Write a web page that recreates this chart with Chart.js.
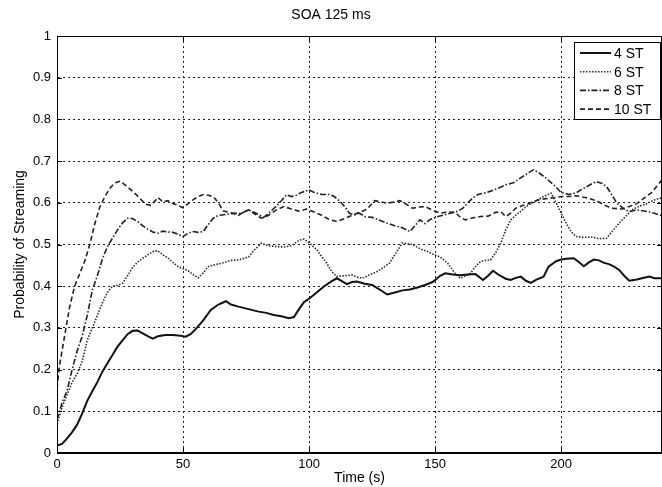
<!DOCTYPE html>
<html>
<head>
<meta charset="utf-8">
<script src="https://cdn.jsdelivr.net/npm/chart.js@4/dist/chart.umd.min.js"></script>
<style>
  html, body { margin: 0; padding: 0; background: #fff; }
  #wrap { width: 662px; height: 487px; }
</style>
</head>
<body>
<div id="wrap"><canvas id="chart" width="662" height="487"></canvas></div>
<script>
// tick values / labels
const xTicks = [0, 50, 100, 150, 200];
const yTickLabels = ['0', '0.1', '0.2', '0.3', '0.4', '0.5', '0.6', '0.7', '0.8', '0.9', '1'];
const seriesNames = ['4 ST', '6 ST', '8 ST', '10 ST'];

// 4 ST (solid)
const time4 = [0, 2, 4, 6, 8, 10, 12, 14, 16, 18, 20, 22, 24, 26, 28, 30, 32, 34, 36, 38, 40, 43, 46, 49, 51, 53, 55, 58, 61, 64, 67, 69, 72, 76, 80, 83, 86, 89, 92, 94, 96, 98, 100, 103, 106, 109, 111, 113, 115, 117, 119, 122, 125, 128, 131, 134, 137, 140, 143, 146, 149, 152, 154, 157, 160, 163, 166, 169, 171, 173, 175, 178, 180, 182, 184, 186, 188, 190, 193, 195, 198, 200, 202, 205, 207, 209, 211, 213, 215, 217, 219, 221, 223, 225, 227, 230, 232, 235, 237, 240];
const prob4 = [0.018, 0.022, 0.035, 0.05, 0.068, 0.095, 0.125, 0.148, 0.17, 0.195, 0.215, 0.235, 0.255, 0.27, 0.285, 0.293, 0.294, 0.287, 0.28, 0.274, 0.28, 0.283, 0.283, 0.281, 0.279, 0.285, 0.297, 0.318, 0.343, 0.356, 0.364, 0.356, 0.351, 0.345, 0.339, 0.336, 0.331, 0.328, 0.323, 0.326, 0.345, 0.362, 0.37, 0.385, 0.4, 0.412, 0.419, 0.412, 0.405, 0.41, 0.411, 0.406, 0.403, 0.392, 0.38, 0.385, 0.39, 0.392, 0.397, 0.403, 0.41, 0.425, 0.431, 0.428, 0.426, 0.428, 0.429, 0.415, 0.425, 0.437, 0.428, 0.418, 0.415, 0.42, 0.423, 0.413, 0.408, 0.415, 0.423, 0.447, 0.46, 0.464, 0.466, 0.467, 0.458, 0.448, 0.457, 0.464, 0.462, 0.456, 0.453, 0.447, 0.439, 0.425, 0.413, 0.416, 0.419, 0.423, 0.419, 0.419];

// 6 ST (dotted)
const time6 = [0, 2, 4, 6, 8, 10, 12, 14, 16, 18, 20, 22, 24, 26, 28, 30, 32, 34, 36, 38, 40, 42, 44, 46, 48, 50, 52, 54, 56, 58, 60, 63, 66, 69, 72, 76, 78, 81, 84, 87, 90, 93, 96, 98, 100, 103, 105, 107, 109, 111, 114, 117, 119, 121, 124, 127, 130, 132, 135, 137, 139, 141, 144, 147, 149, 152, 155, 158, 160, 162, 164, 166, 168, 170, 172, 174, 176, 178, 180, 183, 187, 190, 193, 196, 198, 200, 202, 204, 206, 209, 212, 215, 218, 220, 223, 226, 228, 231, 234, 237, 240];
const prob6 = [0.07, 0.11, 0.14, 0.17, 0.19, 0.22, 0.27, 0.3, 0.33, 0.36, 0.385, 0.4, 0.402, 0.407, 0.425, 0.445, 0.458, 0.467, 0.475, 0.483, 0.485, 0.475, 0.468, 0.457, 0.447, 0.442, 0.437, 0.428, 0.42, 0.432, 0.447, 0.452, 0.456, 0.462, 0.463, 0.47, 0.485, 0.503, 0.497, 0.495, 0.494, 0.497, 0.51, 0.513, 0.504, 0.488, 0.471, 0.455, 0.435, 0.423, 0.425, 0.427, 0.422, 0.419, 0.427, 0.435, 0.447, 0.456, 0.485, 0.504, 0.502, 0.5, 0.49, 0.483, 0.477, 0.47, 0.455, 0.43, 0.419, 0.425, 0.431, 0.447, 0.459, 0.462, 0.463, 0.48, 0.503, 0.535, 0.559, 0.575, 0.595, 0.605, 0.615, 0.623, 0.6, 0.575, 0.551, 0.53, 0.519, 0.517, 0.518, 0.514, 0.515, 0.53, 0.551, 0.57, 0.583, 0.592, 0.598, 0.607, 0.612];

// 8 ST (dash-dot)
const time8 = [0, 2, 4, 6, 8, 10, 12, 14, 16, 18, 20, 22, 24, 26, 28, 30, 32, 34, 36, 38, 40, 42, 44, 46, 48, 50, 52, 54, 56, 58, 60, 62, 64, 67, 70, 73, 76, 79, 82, 84, 87, 89, 91, 93, 95, 97, 100, 102, 105, 108, 110, 112, 114, 116, 118, 120, 122, 125, 128, 131, 134, 137, 140, 142, 144, 146, 148, 150, 153, 156, 159, 161, 163, 165, 167, 170, 172, 175, 178, 181, 184, 187, 189, 191, 194, 197, 200, 203, 206, 209, 212, 214, 216, 218, 220, 222, 225, 227, 230, 234, 237, 240];
const prob8 = [0.08, 0.12, 0.15, 0.2, 0.245, 0.28, 0.33, 0.39, 0.425, 0.465, 0.495, 0.515, 0.535, 0.552, 0.563, 0.562, 0.555, 0.545, 0.537, 0.53, 0.527, 0.532, 0.53, 0.529, 0.525, 0.519, 0.527, 0.531, 0.529, 0.531, 0.548, 0.563, 0.57, 0.572, 0.575, 0.574, 0.583, 0.575, 0.565, 0.575, 0.592, 0.605, 0.619, 0.615, 0.618, 0.625, 0.631, 0.625, 0.62, 0.62, 0.615, 0.605, 0.592, 0.575, 0.571, 0.575, 0.567, 0.565, 0.558, 0.551, 0.545, 0.54, 0.531, 0.545, 0.559, 0.55, 0.56, 0.565, 0.57, 0.575, 0.58, 0.587, 0.6, 0.612, 0.62, 0.624, 0.628, 0.635, 0.643, 0.648, 0.66, 0.672, 0.679, 0.673, 0.659, 0.643, 0.625, 0.62, 0.624, 0.635, 0.645, 0.651, 0.647, 0.639, 0.62, 0.6, 0.585, 0.579, 0.583, 0.579, 0.575, 0.569];

// 10 ST (dashed)
const time10 = [0, 1, 3, 5, 7, 9, 11, 13, 15, 17, 19, 21, 23, 25, 27, 29, 31, 33, 35, 37, 39, 40, 42, 44, 46, 48, 50, 52, 54, 56, 58, 60, 62, 64, 66, 69, 72, 74, 76, 78, 81, 84, 87, 90, 93, 96, 99, 102, 105, 108, 111, 114, 117, 120, 123, 126, 128, 131, 134, 136, 139, 141, 144, 146, 149, 152, 155, 158, 160, 162, 165, 168, 171, 174, 176, 178, 180, 182, 185, 188, 191, 194, 197, 200, 203, 206, 210, 214, 217, 220, 224, 227, 230, 233, 236, 238, 240];
const prob10 = [0.155, 0.21, 0.28, 0.35, 0.4, 0.43, 0.46, 0.5, 0.55, 0.59, 0.615, 0.635, 0.648, 0.652, 0.643, 0.633, 0.622, 0.61, 0.597, 0.594, 0.605, 0.613, 0.602, 0.605, 0.598, 0.594, 0.588, 0.598, 0.607, 0.615, 0.62, 0.618, 0.615, 0.6, 0.58, 0.576, 0.57, 0.578, 0.583, 0.575, 0.563, 0.57, 0.583, 0.591, 0.585, 0.58, 0.585, 0.578, 0.57, 0.56, 0.555, 0.562, 0.57, 0.577, 0.585, 0.605, 0.603, 0.599, 0.602, 0.605, 0.595, 0.587, 0.59, 0.591, 0.582, 0.575, 0.578, 0.577, 0.565, 0.559, 0.564, 0.567, 0.568, 0.577, 0.579, 0.567, 0.575, 0.587, 0.594, 0.6, 0.607, 0.61, 0.612, 0.615, 0.615, 0.617, 0.612, 0.605, 0.595, 0.587, 0.585, 0.591, 0.598, 0.612, 0.625, 0.64, 0.655];

const toPoints = (xs, ys) => xs.map((x, i) => ({ x: x, y: ys[i] }));

Chart.defaults.font.family = '"Liberation Sans", Arial, Helvetica, sans-serif';
Chart.defaults.color = '#000';

// MATLAB-like box, inner tick marks and legend
const boxPlugin = {
    id: 'boxPlugin',
    afterDraw(chart) {
        const ctx = chart.ctx;
        const a = chart.chartArea;
        const xs = chart.scales.x, ys = chart.scales.y;
        ctx.save();
        ctx.strokeStyle = '#000';
        ctx.lineWidth = 1;
        ctx.setLineDash([]);
        ctx.strokeRect(a.left + 0.5, a.top + 0.5, a.right - a.left - 1, a.bottom - a.top - 1);
        // inner ticks
        ctx.beginPath();
        xTicks.forEach(v => {
            const px = Math.round(xs.getPixelForValue(v)) + 0.5;
            ctx.moveTo(px, a.bottom); ctx.lineTo(px, a.bottom - 5);
            ctx.moveTo(px, a.top); ctx.lineTo(px, a.top + 5);
        });
        yTickLabels.forEach((_, i) => {
            const py = Math.round(ys.getPixelForValue(i / 10)) + 0.5;
            ctx.moveTo(a.left, py); ctx.lineTo(a.left + 5, py);
            ctx.moveTo(a.right, py); ctx.lineTo(a.right - 5, py);
        });
        ctx.stroke();

        // legend
        const bw = 86, bh = 77;
        const bx = a.right - 2 - bw, by = a.top + 6;
        ctx.fillStyle = '#fff';
        ctx.fillRect(bx, by, bw, bh);
        ctx.strokeRect(bx + 0.5, by + 0.5, bw, bh);
        ctx.font = '14px "Liberation Sans", Arial, sans-serif';
        ctx.textBaseline = 'middle';
        ctx.fillStyle = '#000';
        chart.data.datasets.forEach((ds, i) => {
            const ly = by + 11 + i * 18.7;
            ctx.beginPath();
            ctx.strokeStyle = ds.borderColor;
            ctx.lineWidth = ds.borderWidth;
            ctx.setLineDash(ds.borderDash || []);
            ctx.moveTo(bx + 6, ly);
            ctx.lineTo(bx + 37, ly);
            ctx.stroke();
            ctx.fillText(ds.label, bx + 40, ly + 1);
        });
        ctx.restore();
    }
};

new Chart(document.getElementById('chart'), {
    type: 'line',
    data: {
        datasets: [
            { label: seriesNames[0], data: toPoints(time4, prob4), borderColor: '#111', borderWidth: 2, borderDash: [] },
            { label: seriesNames[1], data: toPoints(time6, prob6), borderColor: '#2a2a2a', borderWidth: 1.6, borderDash: [1.5, 1.5] },
            { label: seriesNames[2], data: toPoints(time8, prob8), borderColor: '#222', borderWidth: 1.6, borderDash: [6, 2, 1.5, 2] },
            { label: seriesNames[3], data: toPoints(time10, prob10), borderColor: '#222', borderWidth: 1.6, borderDash: [5, 3] }
        ]
    },
    options: {
        responsive: false,
        animation: false,
        layout: { padding: 0 },
        elements: { point: { radius: 0 }, line: { tension: 0 } },
        scales: {
            x: {
                type: 'linear',
                min: 0,
                max: 240,
                afterFit: s => { s.height = 34; s.paddingLeft = 0; s.paddingRight = 0; },
                ticks: {
                    stepSize: 50,
                    padding: 4,
                    maxRotation: 0,
                    font: { size: 13 },
                    callback: v => (xTicks.includes(v) ? String(v) : '')
                },
                grid: { color: '#222', lineWidth: 1, drawTicks: false },
                border: { display: true, color: '#000', dash: [2, 3] },
                title: { display: true, text: 'Time (s)', font: { size: 14 }, padding: { top: 0, bottom: 0 } }
            },
            y: {
                min: 0,
                max: 1,
                afterFit: s => { s.width = 57; s.paddingTop = 0; s.paddingBottom = 0; },
                ticks: {
                    stepSize: 0.1,
                    padding: 6,
                    font: { size: 13 },
                    callback: v => yTickLabels[Math.round(v * 10)]
                },
                grid: { color: '#222', lineWidth: 1, drawTicks: false },
                border: { display: true, color: '#000', dash: [2, 3] },
                title: { display: true, text: 'Probability of Streaming', font: { size: 14 }, padding: { top: 12, bottom: 0 } }
            }
        },
        plugins: {
            legend: { display: false },
            tooltip: { enabled: false },
            title: {
                display: true,
                text: 'SOA 125 ms',
                color: '#000',
                font: { size: 14, weight: 'normal' },
                padding: { top: 7, bottom: 12.2 }
            }
        }
    },
    plugins: [boxPlugin]
});
</script>
</body>
</html>
